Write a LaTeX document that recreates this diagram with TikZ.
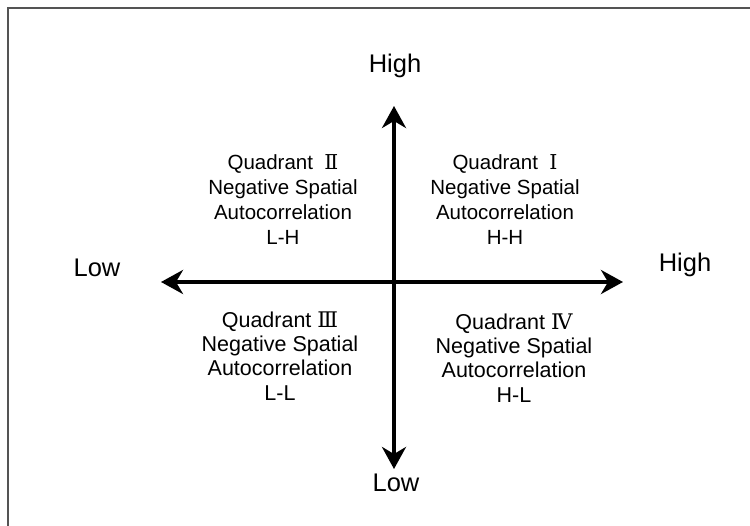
\documentclass[tikz,border=0pt]{standalone}
\usepackage{fontspec}
\setmainfont{Liberation Sans}
\newfontfamily\rnfont{DejaVu Serif}
\usetikzlibrary{arrows.meta}
\definecolor{framegray}{gray}{0.33}
\tikzset{
  axistip/.tip={Stealth[length=22pt,width=24pt,inset=7pt]},
  axisline/.style={line width=4.5pt,axistip-axistip},
  axislabel/.style={inner sep=0pt,font=\fontsize{25.5}{28}\selectfont},
  quadtop/.style={inner sep=0pt,align=center,font=\fontsize{20.5}{25}\selectfont},
  quadbot/.style={inner sep=0pt,align=center,font=\fontsize{21.5}{24.3}\selectfont},
  frameline/.style={draw=framegray,line width=1.6pt}
}
\newcommand{\rn}[1]{{\rnfont #1}}
\begin{document}
\begin{tikzpicture}[x=1pt,y=-1pt]
\useasboundingbox (0,0) rectangle (750,526);
\fill[white] (0,0) rectangle (750,526);
\draw[frameline] (8,526) -- (8,8) -- (750,8);
% axes
\coordinate (L) at (161,282);
\coordinate (R) at (623,282);
\coordinate (T) at (394,106);
\coordinate (B) at (394,469);
\draw[axisline] (L) -- (R);
\draw[axisline] (B) -- (T);
% axis labels
\node[axislabel] (hightop) at (395,66) {High};
\node[axislabel] (highright) at (685,265) {High};
\node[axislabel] (lowleft) at (97,268) {Low};
\node[axislabel] (lowbot) at (396,483) {Low};
% quadrants
\node[quadtop] (q2) at (283,200) {Quadrant\ \ \rn{Ⅱ}\\Negative Spatial\\Autocorrelation\\L-H};
\node[quadtop] (q1) at (505,200) {Quadrant\ \ \rn{Ⅰ}\\Negative Spatial\\Autocorrelation\\H-H};
\node[quadbot] (q3) at (280,356) {Quadrant \rn{Ⅲ}\\Negative Spatial\\Autocorrelation\\L-L};
\node[quadbot] (q4) at (514,358) {Quadrant \rn{Ⅳ}\\Negative Spatial\\Autocorrelation\\H-L};
\end{tikzpicture}
\end{document}
